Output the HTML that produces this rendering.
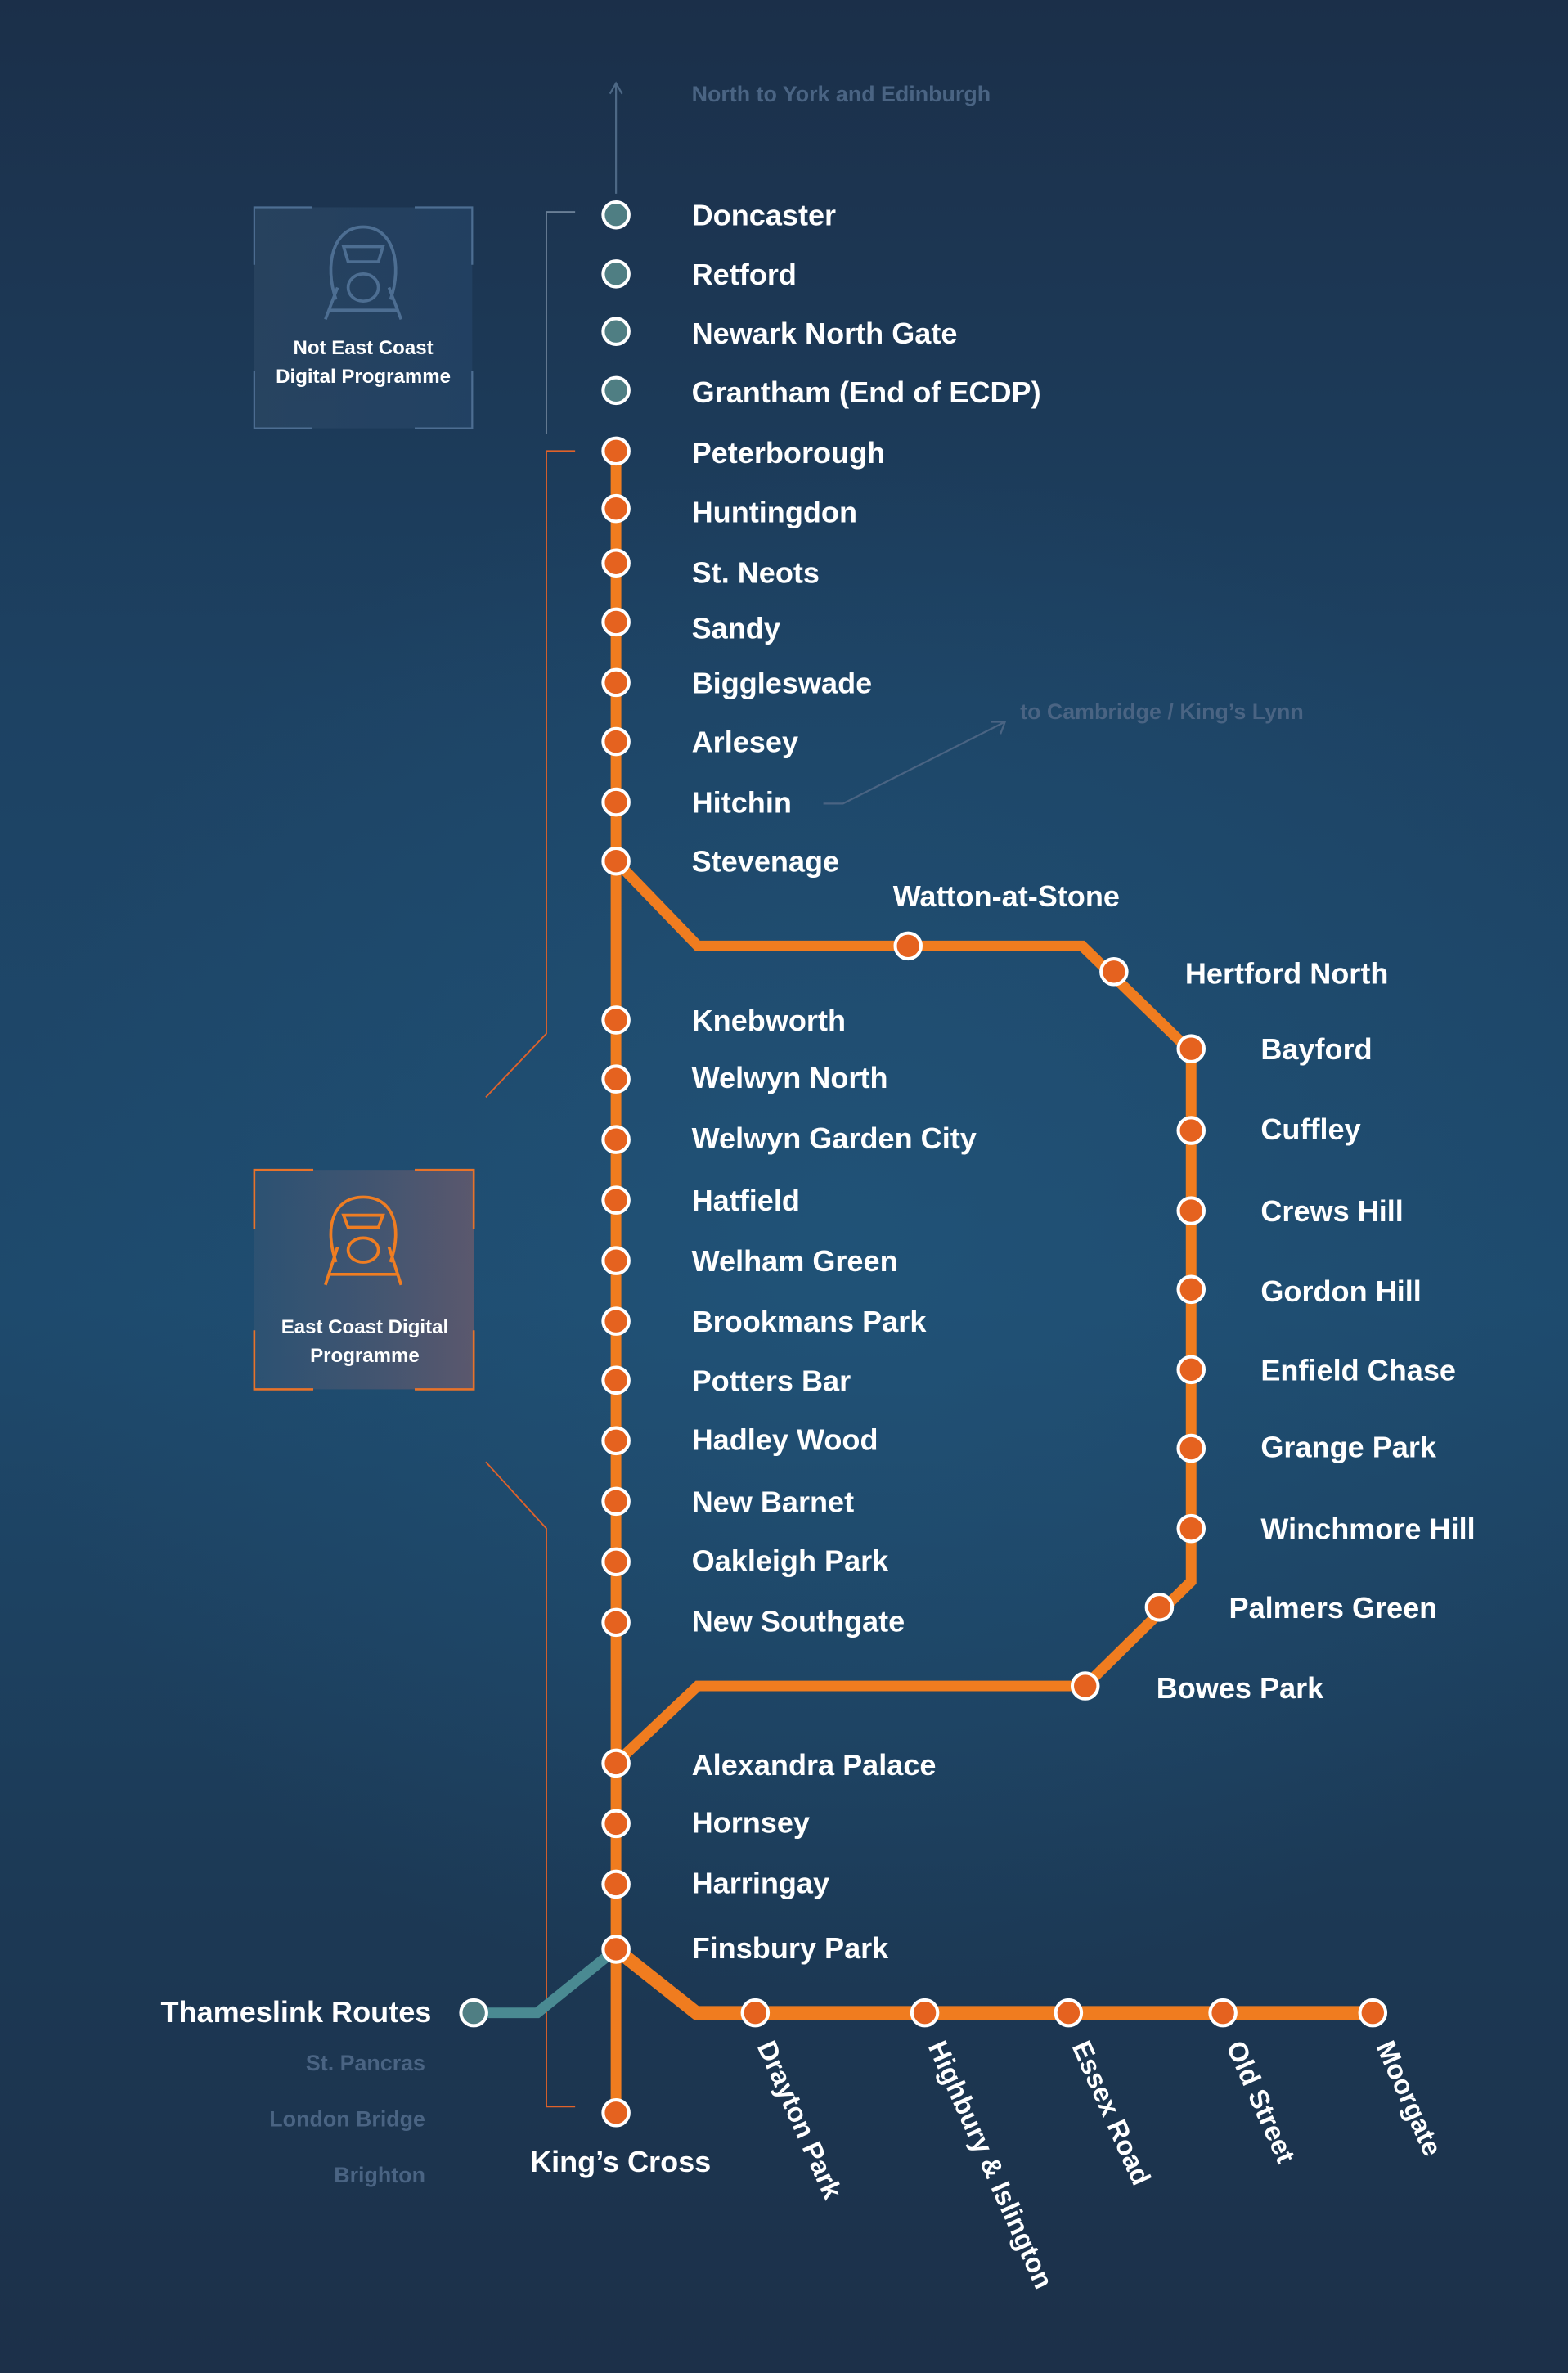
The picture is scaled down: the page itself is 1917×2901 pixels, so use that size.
<!DOCTYPE html>
<html><head><meta charset="utf-8"><style>
html,body{margin:0;padding:0;background:#1c3049}
svg{display:block}
text{font-family:"Liberation Sans",sans-serif;font-weight:bold}
</style></head><body>
<svg width="1917" height="2901" viewBox="0 0 1036 1568" preserveAspectRatio="none" xmlns="http://www.w3.org/2000/svg">
<defs>
<linearGradient id="bg" x1="0" y1="0" x2="0" y2="1">
<stop offset="0" stop-color="#1b2f49"/><stop offset="0.3" stop-color="#1d4263"/><stop offset="0.55" stop-color="#1e4a6d"/><stop offset="0.8" stop-color="#1c3955"/><stop offset="1" stop-color="#1c3049"/>
</linearGradient>
<radialGradient id="glow" cx="0.5" cy="0.5" r="0.5">
<stop offset="0" stop-color="#22587e" stop-opacity="0.6"/><stop offset="1" stop-color="#22587e" stop-opacity="0"/>
</radialGradient>
<radialGradient id="sg" cx="0.5" cy="0.5" r="0.5">
<stop offset="0" stop-color="#f08a4a" stop-opacity="0.35"/><stop offset="1" stop-color="#f08a4a" stop-opacity="0"/>
</radialGradient>
<linearGradient id="tg" x1="0" y1="0" x2="0" y2="1"><stop offset="0" stop-color="#4a8a92"/><stop offset="0.85" stop-color="#4a8a92"/><stop offset="1" stop-color="#f07c1f"/></linearGradient>
<linearGradient id="boxg" x1="0" y1="0" x2="1" y2="0"><stop offset="0" stop-color="#3a5876" stop-opacity="0.5"/><stop offset="1" stop-color="#6a5a6c" stop-opacity="0.8"/></linearGradient>
<linearGradient id="boxg2" x1="0" y1="0" x2="1" y2="0"><stop offset="0" stop-color="#2f4a66" stop-opacity="0.6"/><stop offset="1" stop-color="#26466a" stop-opacity="0.6"/></linearGradient>
</defs>
<rect width="1036" height="1568" fill="url(#bg)"/>
<ellipse cx="560" cy="820" rx="560" ry="520" fill="url(#glow)"/>

<line x1="407" y1="128" x2="407" y2="56" stroke="#4d6885" stroke-width="1.2"/>
<polyline points="403,62 407,55 411,62" fill="none" stroke="#4d6885" stroke-width="1.2"/>
<text x="457" y="67" font-size="14.5" fill="#4a6483">North to York and Edinburgh</text>

<polyline points="544,531 557,531 664,477" fill="none" stroke="#4a6483" stroke-width="1.2"/>
<polyline points="655,477 664,477 661,485" fill="none" stroke="#4a6483" stroke-width="1.2"/>
<text x="674" y="475" font-size="14.5" fill="#4a6483">to Cambridge / King’s Lynn</text>

<polyline points="380,140 361,140 361,287" fill="none" stroke="#6a7f96" stroke-width="1"/>
<polyline points="380,298 361,298 361,683 321,725" fill="none" stroke="#e0622a" stroke-width="1"/>
<polyline points="321,966 361,1010 361,1392 380,1392" fill="none" stroke="#e0622a" stroke-width="1"/>

<rect x="168" y="137" width="144" height="146" fill="url(#boxg2)"/>
<g fill="none" stroke="#4d6e92" stroke-width="1.2">
<polyline points="168,175 168,137 206,137"/><polyline points="274,137 312,137 312,175"/>
<polyline points="168,245 168,283 206,283"/><polyline points="274,283 312,283 312,245"/>
</g>
<g fill="none" stroke="#4d6e92" stroke-width="2" transform="translate(240,180)">
<path d="M-18,18 C-26,-5 -20,-30 0,-30 C20,-30 26,-5 18,18"/>
<path d="M-13,-17 L13,-17 L10,-7 L-10,-7 Z"/>
<ellipse cx="0" cy="10" rx="10" ry="9"/>
<path d="M-17,10 L-25,31 M17,10 L25,31 M-23,25 L23,25"/>
</g>
<text x="240" y="234" font-size="13" fill="#fff" text-anchor="middle">Not East Coast</text>
<text x="240" y="253" font-size="13" fill="#fff" text-anchor="middle">Digital Programme</text>

<rect x="168" y="773" width="145" height="145" fill="url(#boxg)"/>
<g fill="none" stroke="#e8732a" stroke-width="1.4">
<polyline points="168,812 168,773 207,773"/><polyline points="274,773 313,773 313,812"/>
<polyline points="168,879 168,918 207,918"/><polyline points="274,918 313,918 313,879"/>
</g>
<g fill="none" stroke="#ef7d22" stroke-width="2" transform="translate(240,816)">
<path d="M-18,18 C-26,-5 -20,-25 0,-25 C20,-25 26,-5 18,18"/>
<path d="M-13,-13 L13,-13 L10,-5 L-10,-5 Z"/>
<ellipse cx="0" cy="10" rx="10" ry="8"/>
<path d="M-17,8 L-25,33 M17,8 L25,33 M-22,26 L22,26"/>
</g>
<text x="241" y="881" font-size="13" fill="#fff" text-anchor="middle">East Coast Digital</text>
<text x="241" y="900" font-size="13" fill="#fff" text-anchor="middle">Programme</text>

<g fill="none" stroke-linejoin="miter">
<line x1="407" y1="142" x2="407" y2="298" stroke="url(#tg)" stroke-width="9" opacity="0.9"/>
<line x1="407" y1="298" x2="407" y2="1396" stroke="#f07c1f" stroke-width="7"/>
<polyline points="407,569 461,625 715,625 787,695 787,1045 717,1114 461,1114 407,1165" stroke="#f07c1f" stroke-width="7"/>
<polyline points="407,1288 460,1330 907,1330" stroke="#f07c1f" stroke-width="9"/>
<polyline points="313,1330 355,1330 407,1288" stroke="#4a8a92" stroke-width="7"/>
</g>

<g stroke="#fff" stroke-width="2.2">
<g fill="#4f7e83">
<circle cx="407" cy="142" r="8.5"/><circle cx="407" cy="181" r="8.5"/><circle cx="407" cy="219" r="8.5"/><circle cx="407" cy="258" r="8.5"/>
<circle cx="313" cy="1330" r="8.5"/>
</g>
<g fill="#e5621f">
<circle cx="407" cy="298" r="8.5"/><circle cx="407" cy="336" r="8.5"/><circle cx="407" cy="372" r="8.5"/><circle cx="407" cy="411" r="8.5"/><circle cx="407" cy="451" r="8.5"/><circle cx="407" cy="490" r="8.5"/><circle cx="407" cy="530" r="8.5"/><circle cx="407" cy="569" r="8.5"/>
<circle cx="407" cy="674" r="8.5"/><circle cx="407" cy="713" r="8.5"/><circle cx="407" cy="753" r="8.5"/><circle cx="407" cy="793" r="8.5"/><circle cx="407" cy="833" r="8.5"/><circle cx="407" cy="873" r="8.5"/><circle cx="407" cy="912" r="8.5"/><circle cx="407" cy="952" r="8.5"/><circle cx="407" cy="992" r="8.5"/><circle cx="407" cy="1032" r="8.5"/><circle cx="407" cy="1072" r="8.5"/>
<circle cx="407" cy="1165" r="8.5"/><circle cx="407" cy="1205" r="8.5"/><circle cx="407" cy="1245" r="8.5"/><circle cx="407" cy="1288" r="8.5"/><circle cx="407" cy="1396" r="8.5"/>
<circle cx="600" cy="625" r="8.5"/><circle cx="736" cy="642" r="8.5"/><circle cx="787" cy="693" r="8.5"/><circle cx="787" cy="747" r="8.5"/><circle cx="787" cy="800" r="8.5"/><circle cx="787" cy="852" r="8.5"/><circle cx="787" cy="905" r="8.5"/><circle cx="787" cy="957" r="8.5"/><circle cx="787" cy="1010" r="8.5"/><circle cx="766" cy="1062" r="8.5"/><circle cx="717" cy="1114" r="8.5"/>
<circle cx="499" cy="1330" r="8.5"/><circle cx="611" cy="1330" r="8.5"/><circle cx="706" cy="1330" r="8.5"/><circle cx="808" cy="1330" r="8.5"/><circle cx="907" cy="1330" r="8.5"/>
</g>
</g>

<g font-size="19.5" fill="#fff">
<text x="457" y="149">Doncaster</text>
<text x="457" y="188">Retford</text>
<text x="457" y="227">Newark North Gate</text>
<text x="457" y="266">Grantham (End of ECDP)</text>
<text x="457" y="306">Peterborough</text>
<text x="457" y="345">Huntingdon</text>
<text x="457" y="385">St. Neots</text>
<text x="457" y="422">Sandy</text>
<text x="457" y="458">Biggleswade</text>
<text x="457" y="497">Arlesey</text>
<text x="457" y="537">Hitchin</text>
<text x="457" y="576">Stevenage</text>
<text x="590" y="599">Watton-at-Stone</text>
<text x="783" y="650">Hertford North</text>
<text x="833" y="700">Bayford</text>
<text x="833" y="753">Cuffley</text>
<text x="833" y="807">Crews Hill</text>
<text x="833" y="860">Gordon Hill</text>
<text x="833" y="912">Enfield Chase</text>
<text x="833" y="963">Grange Park</text>
<text x="833" y="1017">Winchmore Hill</text>
<text x="812" y="1069">Palmers Green</text>
<text x="764" y="1122">Bowes Park</text>
<text x="457" y="681">Knebworth</text>
<text x="457" y="719">Welwyn North</text>
<text x="457" y="759">Welwyn Garden City</text>
<text x="457" y="800">Hatfield</text>
<text x="457" y="840">Welham Green</text>
<text x="457" y="880">Brookmans Park</text>
<text x="457" y="919">Potters Bar</text>
<text x="457" y="958">Hadley Wood</text>
<text x="457" y="999">New Barnet</text>
<text x="457" y="1038">Oakleigh Park</text>
<text x="457" y="1078">New Southgate</text>
<text x="457" y="1173">Alexandra Palace</text>
<text x="457" y="1211">Hornsey</text>
<text x="457" y="1251">Harringay</text>
<text x="457" y="1294">Finsbury Park</text>
<text x="285" y="1336" text-anchor="end">Thameslink Routes</text>
<text x="410" y="1435" text-anchor="middle">King’s Cross</text>
</g>
<g font-size="18" fill="#fff">
<text transform="translate(500,1352) rotate(66)">Drayton Park</text>
<text transform="translate(613,1352) rotate(66)">Highbury &amp; Islington</text>
<text transform="translate(708,1352) rotate(66)">Essex Road</text>
<text transform="translate(810,1352) rotate(66)">Old Street</text>
<text transform="translate(909,1352) rotate(66)">Moorgate</text>
</g>
<g font-size="14.5" fill="#4a6483" text-anchor="end">
<text x="281" y="1368">St. Pancras</text>
<text x="281" y="1405">London Bridge</text>
<text x="281" y="1442">Brighton</text>
</g>
</svg>
</body></html>
